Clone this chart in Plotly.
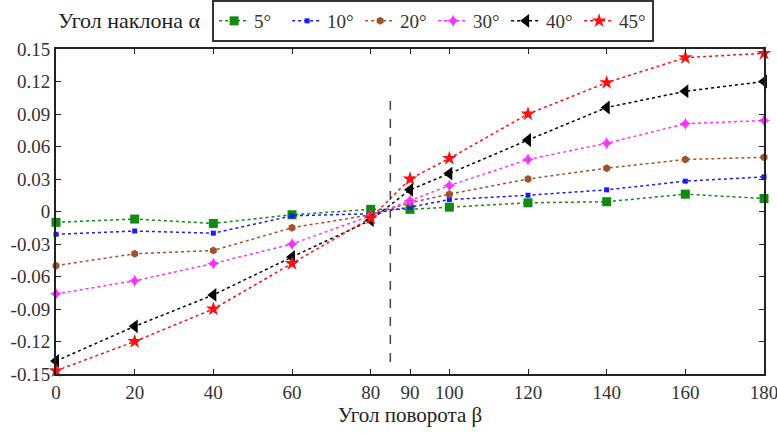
import plotly.graph_objects as go

# rotation angle beta (deg)
beta = [0, 20, 40, 60, 80, 90, 100, 120, 140, 160, 180]

# response for each tilt angle alpha
alpha_5 = [-0.010, -0.007, -0.011, -0.003, 0.002, 0.002, 0.004, 0.008, 0.009, 0.016, 0.012]
alpha_10 = [-0.021, -0.018, -0.020, -0.004, -0.002, 0.004, 0.011, 0.015, 0.020, 0.028, 0.032]
alpha_20 = [-0.050, -0.039, -0.036, -0.015, -0.003, 0.008, 0.016, 0.030, 0.040, 0.048, 0.050]
alpha_30 = [-0.076, -0.064, -0.048, -0.030, -0.004, 0.010, 0.024, 0.048, 0.063, 0.081, 0.084]
alpha_40 = [-0.138, -0.106, -0.077, -0.042, -0.008, 0.020, 0.035, 0.066, 0.096, 0.111, 0.120]
alpha_45 = [-0.147, -0.120, -0.090, -0.048, -0.006, 0.030, 0.049, 0.090, 0.119, 0.142, 0.146]

series_names = ["5°", "10°", "20°", "30°", "40°", "45°"]

x_ticks = [0, 20, 40, 60, 80, 90, 100, 120, 140, 160, 180]
y_ticks = [0.15, 0.12, 0.09, 0.06, 0.03, 0, -0.03, -0.06, -0.09, -0.12, -0.15]
y_tick_labels = ["0.15", "0.12", "0.09", "0.06", "0.03", "0", "-0.03", "-0.06", "-0.09", "-0.12", "-0.15"]

marker_line_beta = 85

FONT = "Liberation Serif"

styles = [
    dict(color="#108a10", symbol="square", size=9),
    dict(color="#1a1aff", symbol="square", size=5),
    dict(color="#a0522d", symbol="hexagon", size=8),
    dict(color="#ff30ff", symbol="star-diamond", size=9),
    dict(color="#000000", symbol="triangle-left", size=12),
    dict(color="#ff1010", symbol="star", size=11),
]

fig = go.Figure()
for name, ys, st in zip(series_names,
                        [alpha_5, alpha_10, alpha_20, alpha_30, alpha_40, alpha_45],
                        styles):
    fig.add_trace(go.Scatter(
        x=beta, y=ys, name=name, mode="lines+markers",
        line=dict(color=st["color"], width=1.5, dash="dot"),
        marker=dict(color=st["color"], symbol=st["symbol"], size=st["size"],
                    line=dict(width=0)),
        cliponaxis=False,
    ))

# dashed vertical reference line
fig.add_shape(type="line", xref="x", yref="y",
              x0=marker_line_beta, x1=marker_line_beta, y0=-0.139, y1=0.110,
              line=dict(color="#444", width=1.5, dash="dash"))

fig.add_annotation(text="Угол наклона α", xref="paper", yref="paper",
                   x=0.0, y=1.087, xanchor="left", yanchor="middle",
                   showarrow=False, font=dict(family=FONT, size=22, color="#222"))

axis_common = dict(showgrid=False, zeroline=False, showline=True,
                   linecolor="#222", linewidth=2, mirror="allticks",
                   ticks="inside", ticklen=5, tickcolor="#222", tickwidth=1,
                   ticklabeloverflow="allow",
                   tickfont=dict(family=FONT, size=19, color="#333"))

fig.update_xaxes(range=[0, 180], tickvals=x_ticks,
                 title=dict(text="Угол поворота β", font=dict(family=FONT, size=21, color="#222"),
                            standoff=3),
                 **axis_common)
fig.update_yaxes(range=[-0.15, 0.15], tickvals=y_ticks, ticktext=y_tick_labels,
                 **axis_common)

fig.update_layout(
    width=777, height=433,
    margin=dict(l=56, r=13, t=49, b=59, autoexpand=False),
    paper_bgcolor="white", plot_bgcolor="white",
    showlegend=True,
    legend=dict(orientation="h", xref="container", yref="container",
                x=0.273, y=1.0, xanchor="left", yanchor="top",
                bordercolor="#333", borderwidth=2, bgcolor="white",
                font=dict(family=FONT, size=19, color="#333"),
                entrywidth=28, itemwidth=30, tracegroupgap=0),
)

fig.write_html("out.html")
